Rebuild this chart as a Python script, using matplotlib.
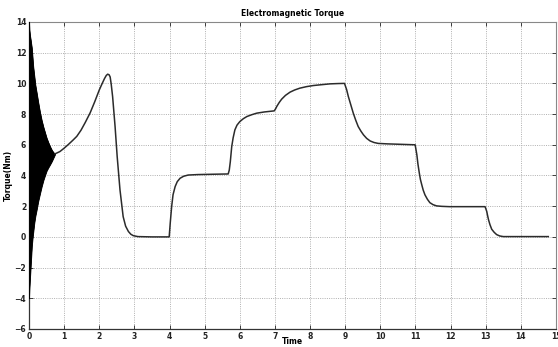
import matplotlib
matplotlib.use("Agg")
import matplotlib.pyplot as plt

# Start-up transient: upper and lower envelope of the fast oscillation
env_t = [0.0, 0.01, 0.03, 0.05, 0.08, 0.10, 0.12, 0.15, 0.18, 0.22, 0.26, 0.31, 0.36, 0.41, 0.46, 0.50,
         0.55, 0.60, 0.65, 0.70, 0.74]
env_upper = [14.0, 13.5, 13.1, 12.8, 12.3, 11.7, 11.1, 10.5, 9.9, 9.36, 8.8, 8.15, 7.6, 7.15, 6.76, 6.45,
             6.15, 5.88, 5.65, 5.48, 5.41]
env_lower = [-4.0, -3.4, -2.6, -1.8, -0.6, -0.1, 0.3, 0.9, 1.35, 1.8, 2.3, 2.8, 3.28, 3.7, 4.04, 4.3,
             4.52, 4.72, 4.93, 5.18, 5.38]

# Electromagnetic torque after the transient settles
time = [0.74, 0.88, 1.0, 1.12, 1.25, 1.36, 1.48, 1.6, 1.74, 1.87, 2.0, 2.08, 2.15, 2.20, 2.24, 2.28, 2.31,
        2.34, 2.38, 2.45, 2.51, 2.59, 2.68, 2.75, 2.83, 2.9, 2.97, 3.1, 3.5,
        3.99, 4.02, 4.06, 4.1, 4.16, 4.22, 4.30, 4.4, 4.53, 4.8, 5.2, 5.67,
        5.70, 5.73, 5.77, 5.81, 5.86, 5.92, 6.0, 6.1, 6.2, 6.34, 6.48, 6.7, 6.98,
        7.02, 7.05, 7.12, 7.19, 7.3, 7.43, 7.56, 7.71, 7.9, 8.09, 8.3, 8.57, 8.8, 8.98,
        9.04, 9.09, 9.16, 9.23, 9.30, 9.37, 9.45, 9.52, 9.61, 9.71, 9.82, 9.94, 10.2, 10.47, 10.99,
        11.01, 11.04, 11.07, 11.11, 11.14, 11.18, 11.22, 11.27, 11.34, 11.41, 11.5, 11.6, 11.75, 11.97, 12.5, 12.98,
        13.0, 13.03, 13.05, 13.08, 13.12, 13.17, 13.24, 13.31, 13.4, 13.5, 13.7, 14.2, 14.78]
torque = [5.41, 5.56, 5.78, 6.02, 6.3, 6.55, 6.95, 7.45, 8.08, 8.8, 9.57, 9.98, 10.32, 10.52, 10.6, 10.56, 10.42,
          9.95, 9.14, 7.19, 5.23, 3.06, 1.32, 0.7, 0.35, 0.17, 0.08, 0.02, 0.0,
          0.0, 0.9, 1.97, 2.75, 3.28, 3.6, 3.82, 3.95, 4.03, 4.06, 4.08, 4.1,
          4.35, 4.9, 5.88, 6.45, 6.97, 7.28, 7.51, 7.7, 7.84, 7.96, 8.06, 8.14, 8.21,
          8.35, 8.49, 8.75, 8.97, 9.22, 9.43, 9.57, 9.69, 9.79, 9.86, 9.91, 9.97, 9.99, 10.0,
          9.6, 9.14, 8.6, 8.06, 7.6, 7.19, 6.88, 6.65, 6.42, 6.25, 6.15, 6.09, 6.06, 6.04, 6.0,
          5.75, 5.34, 4.75, 4.15, 3.75, 3.39, 3.05, 2.74, 2.45, 2.23, 2.1, 2.02, 1.99, 1.97, 1.97, 1.97,
          1.85, 1.65, 1.42, 1.11, 0.8, 0.5, 0.3, 0.15, 0.06, 0.02, 0.02, 0.02, 0.02]

x_ticks = list(range(0, 16))
y_ticks = list(range(-6, 15, 2))

fig = plt.figure(figsize=(5.58, 3.47), dpi=100)
ax = fig.add_axes([29 / 558, 1 - 329 / 347, (556 - 29) / 558, (329 - 22) / 347])

ax.fill_between(env_t, env_lower, env_upper, color="black", lw=0.6, zorder=3)
ax.plot(env_t, env_upper, color="black", lw=0.8, zorder=3)
ax.plot(env_t, env_lower, color="black", lw=0.8, zorder=3)
ax.plot(time, torque, color="#2b2b2b", lw=1.1, zorder=3, solid_joinstyle="round")

ax.set_xlim(0, 15)
ax.set_ylim(-6, 14)
ax.set_xticks(x_ticks)
ax.set_yticks(y_ticks)
ax.tick_params(direction="in", length=3, width=0.6, labelsize=5.5, pad=2,
               top=True, right=True, colors="#222222")
for lab in ax.get_xticklabels() + ax.get_yticklabels():
    lab.set_fontweight("bold")

ax.grid(True, color="#b0b0b0", linestyle=(0, (1, 1.3)), linewidth=0.7)
ax.set_axisbelow(True)
for side in ("left", "bottom"):
    ax.spines[side].set_color("#333333")
    ax.spines[side].set_linewidth(0.9)
for side in ("top", "right"):
    ax.spines[side].set_color("#888888")
    ax.spines[side].set_linewidth(0.8)

ax.set_title("Electromagnetic Torque", fontsize=5.5, fontweight="bold", pad=4)
fig.text(292 / 558, 1 - 342 / 347, "Time", fontsize=5.5, fontweight="bold",
         ha="center", va="center")
ax.set_ylabel("Torque(Nm)", fontsize=5.5, fontweight="bold", labelpad=1)

fig.savefig("out.png", dpi=100)
